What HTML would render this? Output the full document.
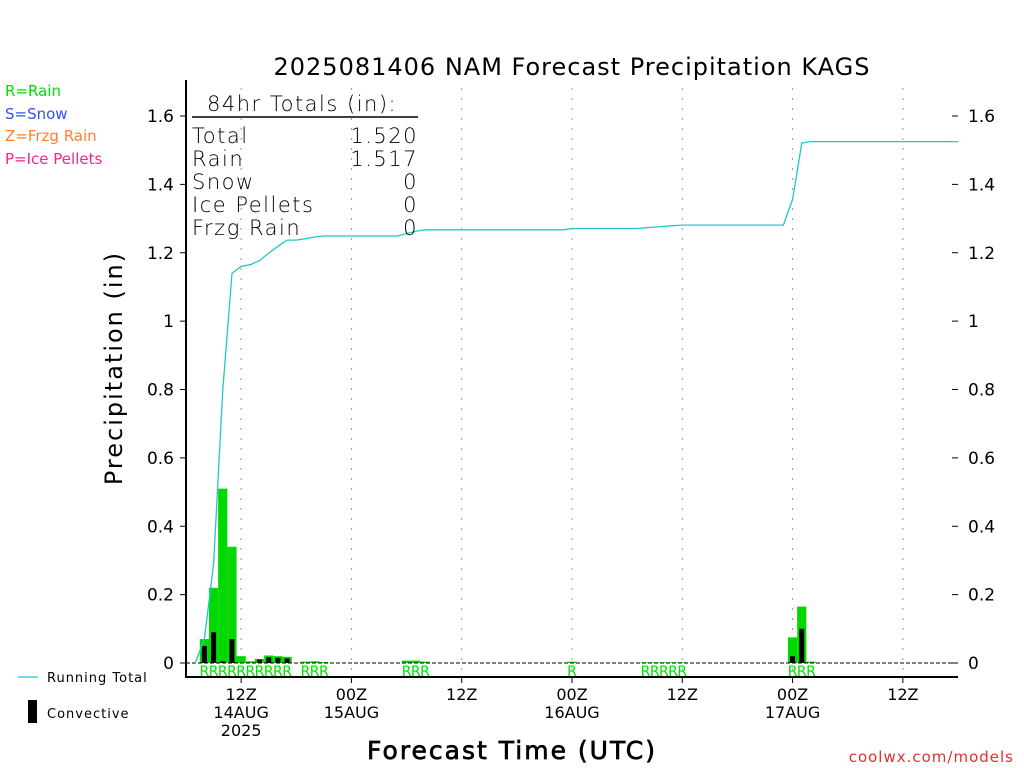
<!DOCTYPE html>
<html><head><meta charset="utf-8"><style>
body{margin:0;background:#fff}
svg{display:block;font-family:"DejaVu Sans","Liberation Sans",sans-serif}
</style></head><body>
<svg id="chart" width="1024" height="768" viewBox="0 0 1024 768">
<text x="572" y="75" font-size="24" text-anchor="middle" letter-spacing="1">2025081406 NAM Forecast Precipitation KAGS</text>
<g font-size="15">
<text x="5" y="96" fill="#00e000">R=Rain</text>
<text x="5" y="119" fill="#3050ff">S=Snow</text>
<text x="5" y="141" fill="#ff8030">Z=Frzg Rain</text>
<text x="5" y="164" fill="#ff2090">P=Ice Pellets</text>
</g>
<g id="grid"></g>
<g id="bars"></g>
<g id="axes"></g>
<g font-size="21" letter-spacing="1.5" font-weight="300">
<text x="207" y="111">84hr Totals (in):</text>
<line x1="192" y1="117" x2="418" y2="117" stroke="#000" stroke-width="1.5"/>
<text x="192" y="143">Total</text><text x="418" y="143" text-anchor="end">1.520</text>
<text x="192" y="166">Rain</text><text x="418" y="166" text-anchor="end">1.517</text>
<text x="192" y="189">Snow</text><text x="418" y="189" text-anchor="end">0</text>
<text x="192" y="212">Ice Pellets</text><text x="418" y="212" text-anchor="end">0</text>
<text x="192" y="235">Frzg Rain</text><text x="418" y="235" text-anchor="end">0</text>
</g>
<text transform="translate(122,368) rotate(-90)" font-size="24" text-anchor="middle" letter-spacing="2">Precipitation (in)</text>
<text x="512" y="759" font-size="25" text-anchor="middle" stroke="#000" stroke-width="0.7" letter-spacing="2">Forecast Time (UTC)</text>
<text x="1014" y="762" font-size="15" text-anchor="end" fill="#e03030" letter-spacing="1">coolwx.com/models</text>
<g font-size="13">
<line x1="18" y1="677" x2="38" y2="677" stroke="#20c8c8" stroke-width="1.2"/>
<text x="47" y="682" letter-spacing="1">Running Total</text>
<rect x="28" y="700" width="9" height="23" fill="#000"/>
<text x="47" y="718" letter-spacing="1">Convective</text>
</g>
</svg>
<script>
const yTicks=[0,0.2,0.4,0.6,0.8,1,1.2,1.4,1.6];
const yTickLabels=["0","0.2","0.4","0.6","0.8","1","1.2","1.4","1.6"];
const xTickHours=[6,18,30,42,54,66,78];
const xTickLabels=[["12Z","14AUG","2025"],["00Z","15AUG"],["12Z"],["00Z","16AUG"],["12Z"],["00Z","17AUG"],["12Z"]];
const rainHours=[2,3,4,5,6,7,8,9,10,11,13,14,15,24,25,26,42,50,51,52,53,54,66,67,68];
const rainValues=[0.07,0.22,0.51,0.34,0.02,0.005,0.012,0.022,0.02,0.018,0.004,0.005,0.003,0.007,0.007,0.004,0.004,0.002,0.002,0.002,0.002,0.002,0.075,0.165,0.004];
const convHours=[2,3,4,5,8,9,10,11,66,67];
const convValues=[0.05,0.09,0.005,0.07,0.01,0.017,0.015,0.013,0.02,0.1];
const NS="http://www.w3.org/2000/svg";
const X0=186,X1=958,Y0=663,Y1=116;
function xs(h){return X0+h*(X1-X0)/84;}
function ys(v){return Y0-v*(Y0-Y1)/1.6;}
function mk(tag,attrs,parent,text){const e=document.createElementNS(NS,tag);for(const k in attrs)e.setAttribute(k,attrs[k]);if(text!==undefined)e.textContent=text;parent.appendChild(e);return e;}
const grid=document.getElementById('grid'),bars=document.getElementById('bars'),axes=document.getElementById('axes');
const bw=(X1-X0)/84;
xTickHours.forEach(h=>{const l=mk('line',{x1:xs(h),y1:88,x2:xs(h),y2:677,stroke:'#999','stroke-dasharray':'2,8'},grid);

});
rainHours.forEach((h,i)=>{const r=mk('rect',{x:xs(h)-bw/2,y:ys(rainValues[i]),width:bw,height:Y0-ys(rainValues[i]),fill:'#00d800'},bars);


const t=mk('text',{x:xs(h),y:676,'font-size':14,'text-anchor':'middle',fill:'#00e000'},bars,'R');

});
convHours.forEach((h,i)=>{const r=mk('rect',{x:xs(h)-2.5,y:ys(convValues[i]),width:5,height:Y0-ys(convValues[i]),fill:'#000'},bars);

});
const zl=mk('line',{x1:X0,y1:Y0,x2:X1,y2:Y0,stroke:'#000','stroke-dasharray':'4,2'},bars);


let cum=0,pts=[];const hourly={};rainHours.forEach((h,i)=>hourly[h]=rainValues[i]);
for(let h=1;h<=84;h++){cum+=hourly[h]||0;pts.push(xs(h).toFixed(1)+','+ys(cum).toFixed(1));}
const pl=mk('polyline',{points:pts.join(' '),fill:'none',stroke:'#20c8c8','stroke-width':1.3},bars);


const la=mk('path',{d:`M${X0},80 V677 H${X1}`,fill:'none',stroke:'#000','stroke-width':2},axes);


yTicks.forEach((v,i)=>{mk('line',{x1:X0-6,y1:ys(v),x2:X0,y2:ys(v),stroke:'#000'},axes);
mk('line',{x1:X1-6,y1:ys(v),x2:X1,y2:ys(v),stroke:'#000'},axes);
const a=mk('text',{x:X0-12,y:ys(v)+6,'font-size':17,'text-anchor':'end'},axes,yTickLabels[i]);


const b=mk('text',{x:X1+10,y:ys(v)+6,'font-size':17},axes,yTickLabels[i]);

});
xTickHours.forEach((h,i)=>{mk('line',{x1:xs(h),y1:677,x2:xs(h),y2:683,stroke:'#000'},axes);
xTickLabels[i].forEach((s,j)=>{const t=mk('text',{x:xs(h),y:700+j*18,'font-size':16,'text-anchor':'middle'},axes,s);

});});
</script>
</body></html>
